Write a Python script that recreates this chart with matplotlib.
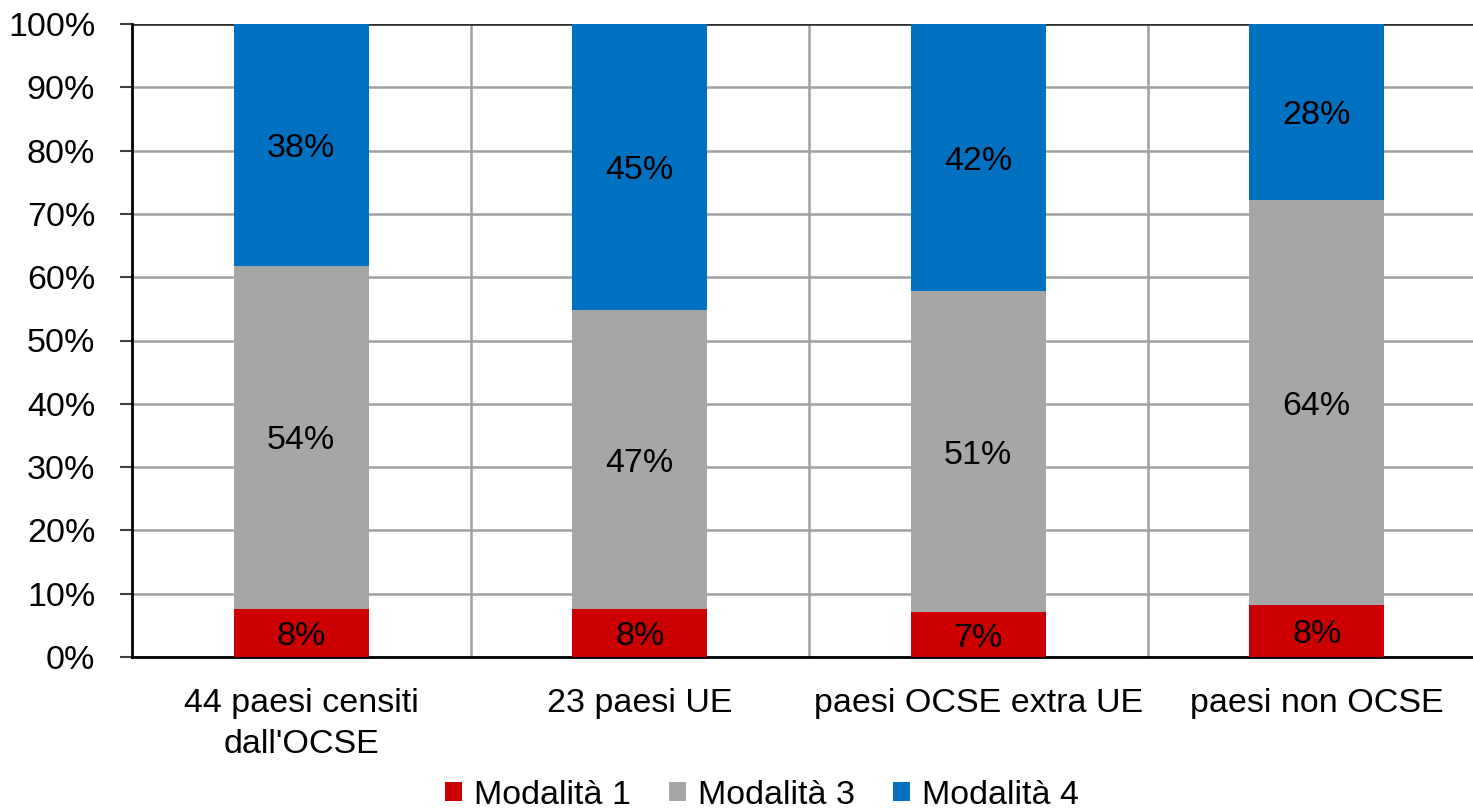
import numpy as np
import matplotlib.pyplot as plt
from matplotlib.ticker import PercentFormatter

# shares (%) for each group of countries
categories = ["44 paesi censiti\ndall'OCSE", "23 paesi UE", "paesi OCSE extra UE", "paesi non OCSE"]
mod1 = [7.6, 7.6, 7.1, 8.2]
mod3 = [54.2, 47.2, 50.7, 64.0]
mod4 = [38.2, 45.2, 42.2, 27.8]
series_names = ["Modalità 1", "Modalità 3", "Modalità 4"]
colors = ["#CC0000", "#A6A6A6", "#0070C0"]

plt.rcParams['font.family'] = ['Liberation Sans', 'DejaVu Sans']
FS = 24.5

W, H = 1473, 808
fig = plt.figure(figsize=(W / 100, H / 100), dpi=100)
# plot area runs slightly past the right edge of the image
ax = fig.add_axes([132 / W, 1 - 657 / H, 1354 / W, 633 / H])

x = np.arange(len(categories))
bottom = np.zeros(len(categories))
for vals, name, c in zip([mod1, mod3, mod4], series_names, colors):
    vals = np.array(vals)
    ax.bar(x, vals, 0.4, bottom=bottom, color=c, label=name, zorder=3)
    for xi, b, v in zip(x, bottom, vals):
        ax.text(xi, b + v / 2, f"{v:.0f}%", ha='center', va='center_baseline',
                fontsize=FS, color='black', zorder=4)
    bottom += vals

ax.set_xlim(-0.5, len(categories) - 0.5)
ax.set_ylim(0, 100)
ax.set_yticks(np.arange(0, 101, 10))
ax.yaxis.set_major_formatter(PercentFormatter(decimals=0))
ax.set_xticks(x)
ax.set_xticklabels(categories, fontsize=FS, linespacing=1.45)
ax.tick_params(axis='y', labelsize=FS, length=8.5, width=1.5, color='#404040', pad=18)
ax.tick_params(axis='x', length=0, pad=22)

# horizontal grid at every 10%, vertical lines between groups
ax.grid(axis='y', color='#A0A0A0', linewidth=1.8, zorder=0)
for b in x[:-1] + 0.5:
    ax.axvline(b, color='#A0A0A0', linewidth=1.8, zorder=0)
ax.axhline(100, color='#303030', linewidth=1.8, zorder=2)

for s in ['top', 'right']:
    ax.spines[s].set_visible(False)
ax.spines['left'].set_linewidth(2)
ax.spines['bottom'].set_linewidth(2)

fig.legend(loc='center', bbox_to_anchor=(762 / W, 1 - 795 / H), ncol=3,
           frameon=False, fontsize=FS, handlelength=0.5, handleheight=0.5,
           handletextpad=0.35, columnspacing=1.12)

fig.savefig('out.png', dpi=100)
